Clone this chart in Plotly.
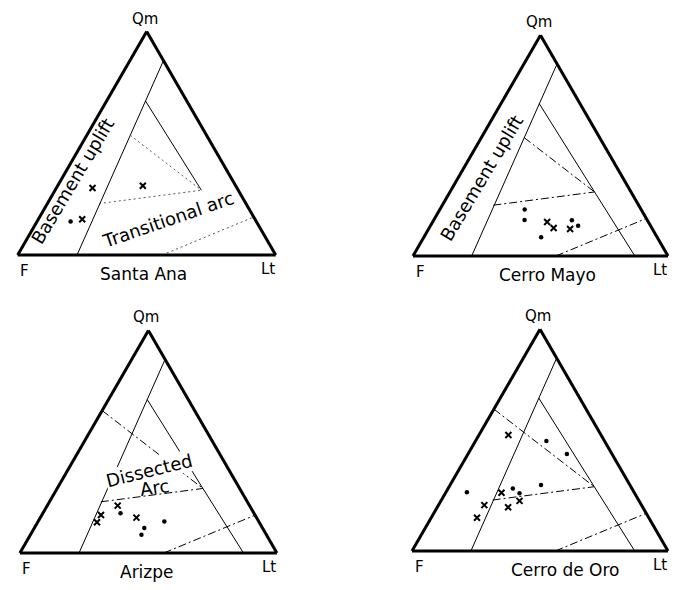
"""
QmFLt provenance diagrams for four sandstone units
"""

import numpy as np
import plotly.graph_objects as go

# the page body keeps an 8px margin on every side; size the figure so nothing scrolls
PAGE_W, PAGE_H, PAD = 678, 590, 8
W, H = PAGE_W - 2 * PAD, PAGE_H - 2 * PAD
FONT = "DejaVu Sans"

# ---- sample compositions in percent (Qm, F, Lt) ----
santa_ana_x_qm = [30, 31, 16]
santa_ana_x_f = [56, 36, 67]
santa_ana_x_lt = [14, 33, 17]
santa_ana_dot_qm = [15]
santa_ana_dot_f = [72]
santa_ana_dot_lt = [13]

cerro_mayo_x_qm = [15.4, 12.7, 12.2]
cerro_mayo_x_f = [39.7, 38.5, 32.3]
cerro_mayo_x_lt = [44.9, 48.8, 55.5]
cerro_mayo_dot_qm = [21.0, 16.3, 8.5, 16.2, 13.7]
cerro_mayo_dot_f = [45.7, 48.1, 45.5, 29.6, 28.4]
cerro_mayo_dot_lt = [33.3, 35.6, 46.0, 54.2, 57.9]

arizpe_x_qm = [21.3, 17.1, 13.8, 15.9]
arizpe_x_f = [51.3, 59.9, 63.1, 46.7]
arizpe_x_lt = [27.4, 23.0, 23.1, 37.4]
arizpe_dot_qm = [17.9, 11.2, 8.2, 14.2]
arizpe_dot_f = [51.9, 46.0, 48.6, 36.7]
arizpe_dot_lt = [30.2, 42.8, 43.2, 49.1]

cerro_oro_x_qm = [52.3, 26.3, 22.6, 19.7, 20.7, 15.0]
cerro_oro_x_f = [36.2, 51.9, 46.7, 52.6, 61.4, 67.1]
cerro_oro_x_lt = [11.5, 21.8, 30.7, 27.7, 17.9, 17.9]
cerro_oro_dot_qm = [49.6, 43.8, 26.5, 28.2, 26.0, 29.8]
cerro_oro_dot_f = [22.7, 17.6, 65.3, 46.5, 45.0, 34.7]
cerro_oro_dot_lt = [27.7, 38.6, 8.2, 25.3, 29.0, 35.5]

# ---- field boundaries (Qm, F, Lt) ----
l1_qm, l1_f, l1_lt = [0, 87], [77, 0], [23, 13]
l2_qm, l2_f, l2_lt = [69, 29, 0], [16, 14.3, 13], [15, 56.7, 87]
da_qm, da_f, da_lt = [64, 53.6, 29], [36, 29.6, 14.3], [0, 16.8, 56.7]
db_qm, db_f, db_lt = [23, 29], [57, 14.3], [20, 56.7]
dc_qm, dc_f, dc_lt = [0, 17], [44, 0], [56, 83]

titles = ["Santa Ana", "Cerro Mayo", "Arizpe", "Cerro de Oro"]

# triangle placement in page pixels: base-left x, base width, base y
boxes = [(17.7, 258, 255), (413, 255, 256), (19.9, 257, 553), (412, 256, 551)]
title_dx = [-3, 7, -1, 25]
DASHDOT = '8px,3px,2px,3px'


def px(x, y):
    """Page pixel position -> paper coordinates"""
    return (x - PAD) / W, 1 - (y - PAD) / H


def ternary_layout(box):
    x0, w, yb = box
    h = w * np.sqrt(3) / 2
    (xa, ya), (xb, yt) = px(x0, yb), px(x0 + w, yb - h)
    ax = dict(showticklabels=False, showgrid=False, ticks='', title=dict(text=''),
              showline=True, linecolor='black', linewidth=3)
    return dict(domain=dict(x=[xa, xb], y=[ya, yt]), sum=100, bgcolor='white',
                aaxis=ax, baxis=ax, caxis=ax)


def line_trace(qm, f, lt, sub, dash):
    color = '#555' if dash == 'dot' else 'black'
    dash = '2px,3px' if dash == 'dot' else dash
    return go.Scatterternary(a=qm, b=f, c=lt, mode='lines', subplot=sub,
                             line=dict(color=color, width=1, dash=dash),
                             showlegend=False, hoverinfo='skip')


def point_traces(data, sub):
    xq, xf, xl, dq, df, dl = data
    return [
        go.Scatterternary(a=xq, b=xf, c=xl, mode='markers', subplot=sub, showlegend=False,
                          marker=dict(symbol='x-thin', size=6, line=dict(width=2, color='black'))),
        go.Scatterternary(a=dq, b=df, c=dl, mode='markers', subplot=sub, showlegend=False,
                          marker=dict(symbol='circle', size=4.5, color='black')),
    ]


def label(text, x, y, size, angle=0, bg=None):
    ax_, ay_ = px(x, y)
    return dict(x=ax_, y=ay_, xref='paper', yref='paper', text=text, showarrow=False,
                xanchor='center', yanchor='middle', textangle=angle,
                font=dict(size=size), bgcolor=bg, borderpad=0)


samples = [
    (santa_ana_x_qm, santa_ana_x_f, santa_ana_x_lt, santa_ana_dot_qm, santa_ana_dot_f, santa_ana_dot_lt),
    (cerro_mayo_x_qm, cerro_mayo_x_f, cerro_mayo_x_lt, cerro_mayo_dot_qm, cerro_mayo_dot_f, cerro_mayo_dot_lt),
    (arizpe_x_qm, arizpe_x_f, arizpe_x_lt, arizpe_dot_qm, arizpe_dot_f, arizpe_dot_lt),
    (cerro_oro_x_qm, cerro_oro_x_f, cerro_oro_x_lt, cerro_oro_dot_qm, cerro_oro_dot_f, cerro_oro_dot_lt),
]

fig = go.Figure()
layout = {}
annotations = []

for i, box in enumerate(boxes):
    sub = 'ternary' if i == 0 else f'ternary{i + 1}'
    layout[sub] = ternary_layout(box)

    fig.add_trace(line_trace(l1_qm, l1_f, l1_lt, sub, 'solid'))
    if i == 0:
        # Santa Ana: arc subdivisions drawn dotted, no lower part of second line
        fig.add_trace(line_trace(l2_qm[:2], l2_f[:2], l2_lt[:2], sub, 'solid'))
        fig.add_trace(line_trace(da_qm[1:], da_f[1:], da_lt[1:], sub, 'dot'))
        fig.add_trace(line_trace(db_qm, db_f, db_lt, sub, 'dot'))
        fig.add_trace(line_trace(dc_qm, dc_f, dc_lt, sub, 'dot'))
    else:
        fig.add_trace(line_trace(l2_qm, l2_f, l2_lt, sub, 'solid'))
        s = slice(1, None) if i == 1 else slice(None)
        fig.add_trace(line_trace(da_qm[s], da_f[s], da_lt[s], sub, DASHDOT))
        fig.add_trace(line_trace(db_qm, db_f, db_lt, sub, DASHDOT))
        fig.add_trace(line_trace(dc_qm, dc_f, dc_lt, sub, DASHDOT))

    for t in point_traces(samples[i], sub):
        fig.add_trace(t)

    # corner labels and panel title
    x0, w, yb = box
    h = w * np.sqrt(3) / 2
    annotations += [
        label('Qm', x0 + w / 2 - 2, yb - h - 13, 15),
        label('F', x0 + 7, yb + 16, 15),
        label('Lt', x0 + w - 8, yb + 14, 15),
        label(titles[i], x0 + w / 2 + title_dx[i], yb + 19, 17),
    ]

# field names
annotations += [
    label('Basement uplift', 72, 181, 18, -59),
    label('Transitional arc', 168, 219, 18, -19),
    label('Basement uplift', 481, 178, 18, -59),
    label('Dissected', 149, 470, 18, -14, 'white'),
    label('Arc', 154, 487, 18, -8),
]

fig.update_layout(
    **layout,
    annotations=annotations,
    width=W, height=H,
    margin=dict(l=0, r=0, t=0, b=0),
    paper_bgcolor='white',
    font=dict(family=FONT, color='black'),
    showlegend=False,
)

fig.write_html("out.html")
